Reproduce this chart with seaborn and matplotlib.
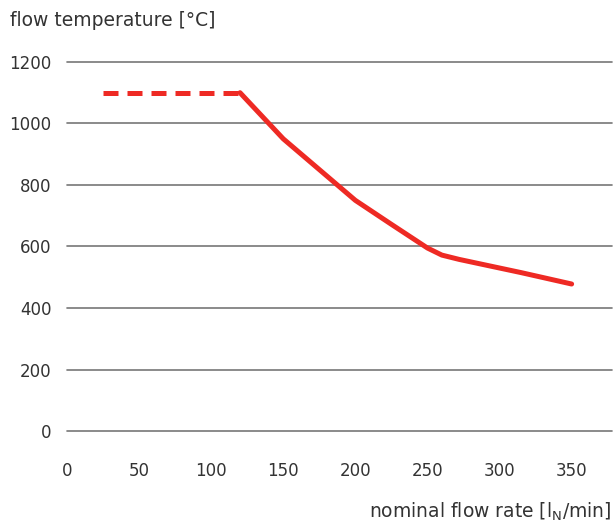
import pandas as pd
import numpy as np
import matplotlib.pyplot as plt
import seaborn as sns

# -----------------------------
# DATA
# -----------------------------
dashed_flow = [25, 120]
dashed_temp = [1100, 1100]

solid_flow = [120, 150, 175, 200, 225, 250, 260, 272, 287, 315, 350]
solid_temp = [1100, 950, 850, 750, 672, 595, 572, 558, 543, 515, 478]

x_ticks = [0, 50, 100, 150, 200, 250, 300, 350]
y_ticks = [0, 200, 400, 600, 800, 1000, 1200]

RED = '#ee2a24'
TEXT = '#333333'
FS = 12
FS_TITLE = 13.5

# -----------------------------
# PLOT
# -----------------------------
sns.set_theme(style='white')
plt.rcParams['font.family'] = ['DejaVu Sans']

fig = plt.figure(figsize=(6.16, 5.25), dpi=100)
ax = fig.add_axes([0.1088, 0.179, 0.8847, 0.703])

dashed_df = pd.DataFrame({'flow': dashed_flow, 'temp': dashed_temp})
solid_df = pd.DataFrame({'flow': solid_flow, 'temp': solid_temp})

for y in y_ticks:
    ax.axhline(y, color='#777777', lw=1.2, zorder=1)

sns.lineplot(data=dashed_df, x='flow', y='temp', ax=ax, color=RED, lw=3.6,
             zorder=3)
ax.lines[-1].set_dashes([3.0, 1.8])
sns.lineplot(data=solid_df, x='flow', y='temp', ax=ax, color=RED, lw=3.6,
             zorder=3, solid_capstyle='round', solid_joinstyle='round')

ax.set_xlim(0, 378)
ax.set_ylim(0, 1200)
ax.set_xticks(x_ticks)
ax.set_yticks(y_ticks)
ax.tick_params(axis='x', length=0, pad=22, labelsize=FS, labelcolor=TEXT)
ax.tick_params(axis='y', length=0, pad=11, labelsize=FS, labelcolor=TEXT)
ax.set_xlabel('')
ax.set_ylabel('')
for s in ax.spines.values():
    s.set_visible(False)
for ln in ax.lines:
    ln.set_clip_on(False)

fig.text(10 / 616, 1 - 20 / 525, 'flow temperature [°C]', fontsize=FS_TITLE,
         color=TEXT, ha='left', va='center')
fig.text(612 / 616, 1 - 512 / 525, 'nominal flow rate [l$_\\mathregular{N}$/min]',
         fontsize=FS_TITLE, color=TEXT, ha='right', va='center')

plt.savefig('out.png', dpi=100)
